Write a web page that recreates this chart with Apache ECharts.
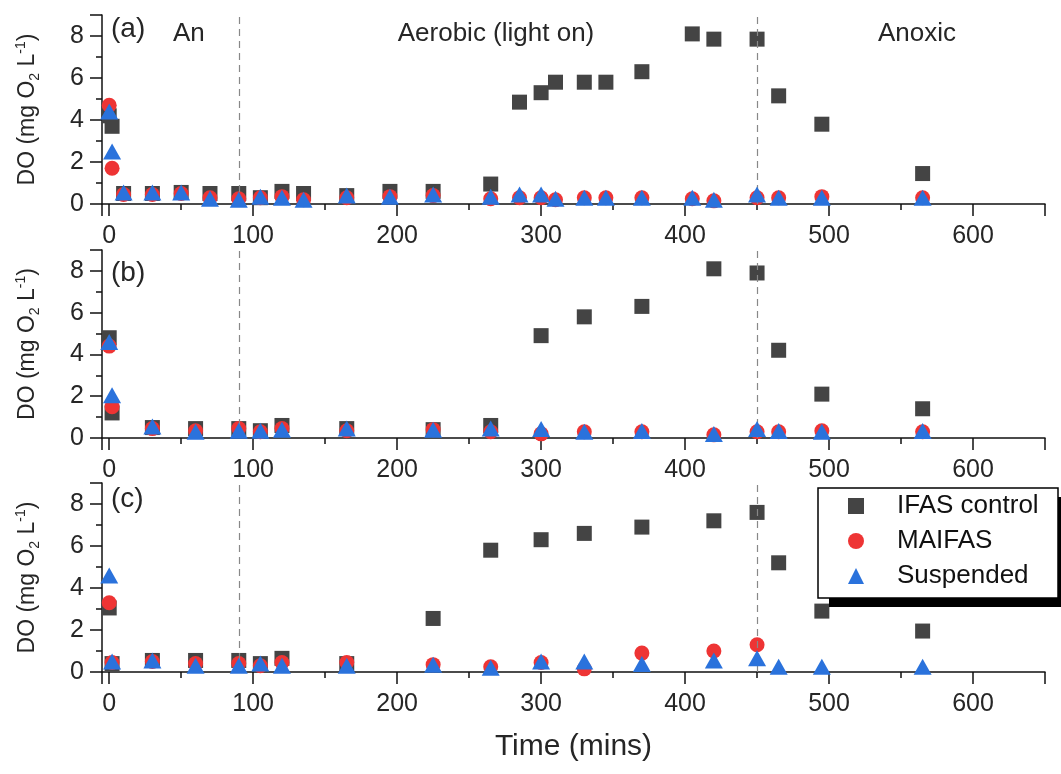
<!DOCTYPE html>
<html><head><meta charset="utf-8">
<script src="https://cdn.jsdelivr.net/npm/echarts@6/dist/echarts.min.js"></script>
<style>html,body{margin:0;padding:0;background:#fff}#c{width:1061px;height:774px}</style>
</head><body><div id="c"></div><script>
// ---- data ----
const seriesNames = ['IFAS control', 'MAIFAS', 'Suspended'];
const panelLabels = ['(a)', '(b)', '(c)'];
const phaseLabels = ['An', 'Aerobic (light on)', 'Anoxic'];
const phaseBoundaries = [90, 450];

const timeA = [0, 2, 10, 30, 50, 70, 90, 105, 120, 135, 165, 195, 225, 265, 285, 300, 310, 330, 345, 370, 405, 420, 450, 465, 495, 565];
const ifasA = [4.2, 3.7, 0.5, 0.5, 0.55, 0.5, 0.5, 0.3, 0.6, 0.5, 0.4, 0.6, 0.6, 0.95, 4.85, 5.3, 5.8, 5.8, 5.8, 6.3, 8.1, 7.85, 7.85, 5.15, 3.8, 1.45];
const maifasA = [4.7, 1.7, 0.45, 0.45, 0.5, 0.3, 0.25, 0.3, 0.35, 0.2, 0.3, 0.35, 0.4, 0.25, 0.3, 0.3, 0.2, 0.3, 0.3, 0.3, 0.25, 0.15, 0.3, 0.3, 0.35, 0.3];
const suspA = [4.4, 2.5, 0.55, 0.55, 0.55, 0.25, 0.2, 0.35, 0.3, 0.2, 0.4, 0.35, 0.45, 0.35, 0.45, 0.45, 0.25, 0.3, 0.3, 0.3, 0.3, 0.2, 0.45, 0.3, 0.3, 0.3];

const timeB = [0, 2, 30, 60, 90, 105, 120, 165, 225, 265, 300, 330, 370, 420, 450, 465, 495, 565];
const ifasB = [4.8, 1.2, 0.5, 0.45, 0.45, 0.35, 0.6, 0.45, 0.4, 0.6, 4.9, 5.8, 6.3, 8.1, 7.9, 4.2, 2.1, 1.4];
const maifasB = [4.4, 1.5, 0.45, 0.35, 0.45, 0.3, 0.45, 0.35, 0.4, 0.3, 0.2, 0.3, 0.3, 0.15, 0.3, 0.3, 0.35, 0.3];
const suspB = [4.6, 2.05, 0.55, 0.3, 0.35, 0.35, 0.4, 0.45, 0.4, 0.45, 0.43, 0.3, 0.33, 0.19, 0.43, 0.33, 0.3, 0.33];

const timeC = [0, 2, 30, 60, 90, 105, 120, 165, 225, 265, 300, 330, 370, 420, 450, 465, 495, 565];
const ifasC = [3.05, 0.4, 0.55, 0.55, 0.55, 0.4, 0.65, 0.4, 2.55, 5.8, 6.3, 6.6, 6.9, 7.2, 7.6, 5.2, 2.9, 1.95];
const timeCm = [0, 2, 30, 60, 90, 105, 120, 165, 225, 265, 300, 330, 370, 420, 450];
const maifasC = [3.3, 0.45, 0.5, 0.4, 0.4, 0.3, 0.45, 0.45, 0.35, 0.25, 0.45, 0.15, 0.9, 1.0, 1.3];
const suspC = [4.6, 0.5, 0.55, 0.3, 0.3, 0.4, 0.3, 0.3, 0.35, 0.2, 0.5, 0.5, 0.38, 0.55, 0.65, 0.25, 0.25, 0.25];

// ---- build ----
const FONT = '"Liberation Sans", Arial, sans-serif';
const TXT = '#262626';
const colors = ['#444444', '#ee3434', '#2a72dc'];
const symbols = ['rect', 'circle', 'triangle'];
const sizes = [15, 15, [18, 16]];
const zip = (t, v) => t.map((x, i) => [x, v[i]]);

const panels = [
  [zip(timeA, ifasA), zip(timeA, maifasA), zip(timeA, suspA)],
  [zip(timeB, ifasB), zip(timeB, maifasB), zip(timeB, suspB)],
  [zip(timeC, ifasC), zip(timeCm, maifasC), zip(timeC, suspC)]
];

const gridTops = [15, 250, 483];
const gridHeights = [189, 188, 189];
const grid = gridTops.map((t, i) => ({ left: 102, width: 943, top: t, height: gridHeights[i] }));

const xAxis = grid.map((g, i) => ({
  type: 'value', gridIndex: i, min: -5, max: 650, splitNumber: 7,
  axisLine: { lineStyle: { color: '#111', width: 1.5 } },
  axisTick: { length: 12, lineStyle: { color: '#111', width: 1.5 } },
  minorTick: { show: true, splitNumber: 2, length: 6, lineStyle: { color: '#111', width: 1.5 } },
  axisLabel: { showMinLabel: false, showMaxLabel: false, fontSize: 25, fontFamily: FONT, color: TXT, margin: 20 },
  splitLine: { show: false },
  name: i === 2 ? 'Time (mins)' : '',
  nameLocation: 'middle', nameGap: 60,
  nameTextStyle: { fontSize: 30, fontFamily: FONT, color: TXT }
}));
const yAxis = grid.map((g, i) => ({
  type: 'value', gridIndex: i, min: 0, max: 9, interval: 2,
  axisLine: { onZero: false, lineStyle: { color: '#111', width: 1.5 } },
  axisTick: { length: 12, lineStyle: { color: '#111', width: 1.5 } },
  minorTick: { show: true, splitNumber: 2, length: 6, lineStyle: { color: '#111', width: 1.5 } },
  axisLabel: { showMaxLabel: false, fontSize: 25, fontFamily: FONT, color: TXT, margin: 18 },
  splitLine: { show: false },
  name: '{n|DO (mg O}{s|2}{n| L}{p|-1}{n|)}',
  nameLocation: 'middle', nameGap: 60, nameRotate: 90,
  nameTextStyle: {
    fontFamily: FONT, color: TXT,
    rich: {
      n: { fontSize: 23, fontFamily: FONT, color: TXT, lineHeight: 28, verticalAlign: 'middle' },
      s: { fontSize: 14, fontFamily: FONT, color: TXT, lineHeight: 14, verticalAlign: 'bottom' },
      p: { fontSize: 14, fontFamily: FONT, color: TXT, lineHeight: 14, verticalAlign: 'top' }
    }
  }
}));

const series = [];
panels.forEach((p, i) => {
  series.push({
    type: 'scatter', name: 'phase', xAxisIndex: i, yAxisIndex: i, data: [], z: 1,
    markLine: {
      silent: true, symbol: ['none', 'none'], label: { show: false },
      lineStyle: { type: [7, 5], color: '#888', width: 1.2 },
      data: phaseBoundaries.map(b => ({ xAxis: b }))
    }
  });
  p.forEach((d, k) => {
    series.push({
      type: 'scatter', name: seriesNames[k], xAxisIndex: i, yAxisIndex: i,
      data: d, symbol: symbols[k], symbolSize: sizes[k], z: 3 + k,
      itemStyle: { color: colors[k], opacity: 1 }
    });
  });
});

const txt = (text, x, y, size, align) => ({
  type: 'text', x: x, y: y, silent: true,
  style: { text: text, fontSize: size, fontFamily: FONT, fill: TXT, textAlign: align || 'left', textVerticalAlign: 'middle' }
});
const graphic = [
  txt(panelLabels[0], 111, 29, 28),
  txt(panelLabels[1], 111, 273, 28),
  txt(panelLabels[2], 111, 499, 28),
  txt(phaseLabels[0], 173, 34, 26),
  txt(phaseLabels[1], 496, 34, 26, 'center'),
  txt(phaseLabels[2], 917, 34, 26, 'center'),
  // legend frame with offset shadow
  { type: 'rect', z: 20, silent: true, shape: { x: 829, y: 497, width: 240, height: 110 }, style: { fill: '#000' } },
  { type: 'rect', z: 21, silent: true, shape: { x: 818, y: 488, width: 240, height: 110 }, style: { fill: '#fff', stroke: '#000', lineWidth: 1.5 } }
];

const chart = echarts.init(document.getElementById('c'), null, { renderer: 'canvas' });
chart.setOption({
  animation: false,
  backgroundColor: '#fff',
  grid: grid, xAxis: xAxis, yAxis: yAxis, series: series, graphic: graphic,
  legend: {
    orient: 'vertical', left: 818, top: 484, z: 30,
    data: seriesNames,
    itemWidth: 16, itemHeight: 16, itemGap: 9,
    padding: [9, 10, 9, 30],
    textStyle: { fontSize: 26, fontFamily: FONT, color: '#111', padding: [0, 0, 0, 28], lineHeight: 24 }
  }
});
</script></body></html>
